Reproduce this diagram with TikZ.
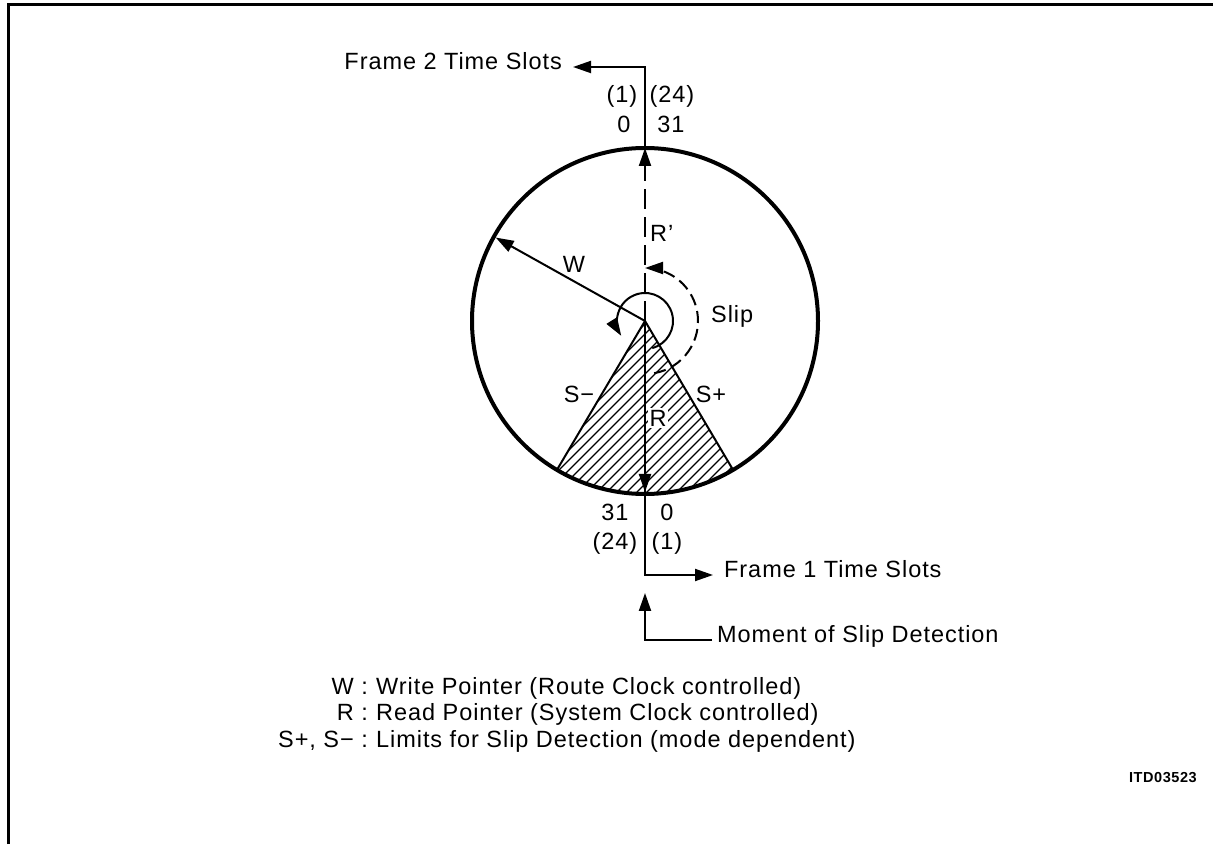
\documentclass[tikz,border=0pt]{standalone}
\usepackage{fontspec}
\setmainfont{Liberation Sans}[LetterSpace=4]
\usetikzlibrary{arrows.meta,calc}
\begin{document}
\begin{tikzpicture}[x=1pt,y=1pt,
  lbl/.style={font=\fontsize{23.5}{26}\selectfont, inner sep=0pt},
  small/.style={font=\fontsize{14.5}{16}\selectfont\bfseries, inner sep=0pt},
  thinline/.style={line width=2pt},
  tip/.style={-{Triangle[length=18pt,width=12pt]}},
]
\useasboundingbox (0,0) rectangle (1213,844);
% frame border
\draw[line width=3pt] (8,0) -- (8,839) -- (1213,839);

\coordinate (C) at (645,523);
\coordinate (Ctop) at (645,696);
\coordinate (Cbot) at (645,352);
\coordinate (BL) at ($(C)+(-120.6:173)$);
\coordinate (BR) at ($(C)+(-59.4:173)$);

% hatched sector
\begin{scope}
  \clip (C) -- (BL) arc[start angle=-120.6, end angle=-59.4, radius=173] -- cycle;
  \foreach \i in {-320,-310,...,200}
    \draw[line width=1.3pt] (645+\i,330) -- ++(230,230);
\end{scope}
\draw[thinline] (BL) -- (C) -- (BR);

% main circle
\draw[line width=4pt] (C) circle[radius=173];

% top: Frame 2
\coordinate (F2c) at (645,777);
\coordinate (F2t) at (573,777);
\draw[thinline, tip] (Ctop) -- (F2c) -- (F2t);
\node[lbl, anchor=mid east] (f2) at (562,777) {Frame 2 Time Slots};
\node[lbl] (p1t) at (622,748) {(1)};
\node[lbl] (p24t) at (672,748) {(24)};
\node[lbl] (n0t) at (624,720) {0};
\node[lbl] (n31t) at (671,720) {31};

% R' dashed pointer
\draw[thinline, dash pattern=on 20pt off 8pt] (C) -- (645,676);
\draw[thinline, tip] (645,672) -- (Ctop);
\node[lbl, anchor=mid west] (rp) at (650,605) {R'};

% W pointer
\draw[thinline, tip] (C) -- ($(C)+(150.8:171)$);
\node[lbl] (w) at (574,580) {W};

% small rotation arc
\draw[thinline, tip] ($(C)+(-75:28)$) arc[start angle=-75, end angle=212, radius=28];

% slip arc
\draw[thinline, dash pattern=on 12pt off 6pt] ($(C)+(-80:53)$) arc[start angle=-80, end angle=78, radius=53];
\draw[thinline, tip] ($(C)+(76:53)$) arc[start angle=76, end angle=90, radius=53];
\node[lbl, anchor=mid west] (slip) at (711,524) {Slip};

% R pointer
\draw[thinline, tip] (C) -- (Cbot);
\node[lbl, fill=white, inner sep=2pt] (r) at (658,426) {R};
\node[lbl] (sm) at (579,450) {S−};
\node[lbl] (sp) at (711,450) {S+};

% bottom labels
\node[lbl] (n31b) at (615,332) {31};
\node[lbl] (n0b) at (667,332) {0};
\node[lbl] (p24b) at (615,301) {(24)};
\node[lbl] (p1b) at (667,301) {(1)};

% Frame 1
\coordinate (F1c) at (645,269);
\coordinate (F1t) at (713,269);
\draw[thinline, tip] (645,494) -- (F1c) -- (F1t);
\node[lbl, anchor=mid west] (f1) at (724,269) {Frame 1 Time Slots};

% Moment of slip detection
\coordinate (Mc) at (645,204);
\coordinate (Mt) at (645,251);
\coordinate (Me) at (712,204);
\draw[thinline, tip] (Me) -- (Mc) -- (Mt);
\node[lbl, anchor=mid west] (mom) at (717,204) {Moment of Slip Detection};

% legend
\node[lbl, anchor=mid east] (lw) at (368,152) {W :};
\node[lbl, anchor=mid west] (tw) at (376,152) {Write Pointer (Route Clock controlled)};
\node[lbl, anchor=mid east] (lr) at (368,126) {R :};
\node[lbl, anchor=mid west] (tr) at (376,126) {Read Pointer (System Clock controlled)};
\node[lbl, anchor=mid east] (ls) at (368,99) {S+, S− :};
\node[lbl, anchor=mid west] (ts) at (376,99) {Limits for Slip Detection (mode dependent)};

\node[small, anchor=mid east] (itd) at (1197,64) {ITD03523};
\end{tikzpicture}
\end{document}
